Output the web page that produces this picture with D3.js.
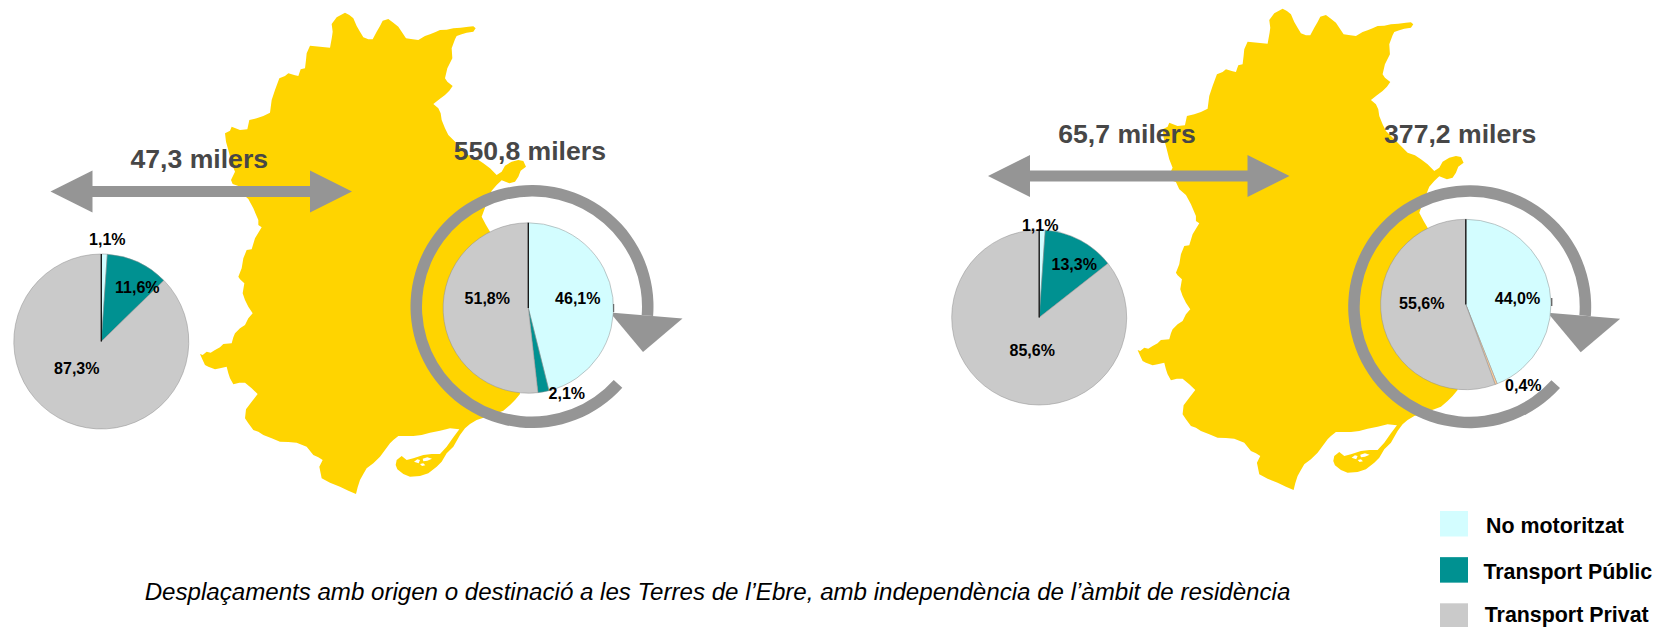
<!DOCTYPE html>
<html>
<head>
<meta charset="utf-8">
<title>Desplaçaments Terres de l'Ebre</title>
<script src="https://cdn.jsdelivr.net/npm/d3@7/dist/d3.min.js"></script>
<style>
html, body { margin: 0; padding: 0; background: #fff; }
svg { display: block; }
text { font-family: "Liberation Sans", Arial, sans-serif; }
</style>
</head>
<body>
<div id="chart"></div>
<script>
// values
var categories = ["No motoritzat", "Transport Públic", "Transport Privat"];

var externLeft = [1.1, 11.6, 87.3];
var internLeft = [46.1, 2.1, 51.8];
var externRight = [1.1, 13.3, 85.6];
var internRight = [44.0, 0.4, 55.6];

var totals = ["47,3 milers", "550,8 milers", "65,7 milers", "377,2 milers"];
var caption = "Desplaçaments amb origen o destinació a les Terres de l’Ebre, amb independència de l’àmbit de residència";

var colors = ["#d3fdff", "#009191", "#cacaca"];
var peach = "#ffcc99"; // last pie uses another colour for the small slice

// outline of the territory, traced in a 3x crop of the left map
var mapOutline = [[465,38],[478,45],[490,55],[500,78],[510,95],[520,112],[535,118],[548,118],[560,95],[570,78],[578,62],[595,57],
    [610,68],[625,80],[638,100],[648,115],[668,118],[685,120],[705,108],[720,103],[735,97],[750,90],[770,89],[790,85],[812,83],[835,80],[850,79],[857,85],
    [850,95],[830,98],[815,103],[800,108],[795,118],[785,145],[787,175],[772,205],[765,235],[772,245],[788,258],[778,272],[765,285],[748,298],[730,312],
    [745,325],[752,340],[755,360],[765,385],[775,405],[800,430],[820,450],[840,470],[862,478],[880,490],[900,505],[920,525],[935,515],
    [945,497],[965,485],[985,480],[1000,483],[1008,500],[992,512],[985,530],[975,545],[958,550],[935,541],[920,555],
    [905,572],[890,610],[875,650],[888,675],[900,695],[930,800],[960,1000],[990,1182],[975,1200],[960,1215],[940,1232],[920,1240],[890,1250],[860,1260],[840,1272],[825,1285],
    [810,1305],[790,1340],[770,1360],[755,1385],[740,1400],[715,1420],[690,1428],[660,1430],[640,1422],[622,1408],[617,1395],[620,1380],[635,1368],
    [650,1380],[670,1375],[700,1365],[725,1362],[750,1362],[770,1340],[790,1312],[808,1288],[780,1285],[750,1292],[720,1298],[695,1305],[670,1308],[625,1308],
    [610,1320],[600,1330],[585,1350],[570,1370],[550,1390],[530,1405],[520,1422],[510,1440],[503,1462],[498,1482],[475,1472],[450,1460],[420,1448],[395,1435],
    [388,1400],[398,1380],[385,1372],[370,1365],[350,1340],[320,1328],[295,1326],[270,1325],[245,1315],[220,1305],[205,1295],[190,1290],[175,1270],[165,1255],
    [168,1228],[185,1205],[203,1182],[185,1165],[165,1148],[148,1148],[130,1153],[120,1135],[115,1120],[110,1100],[90,1105],[75,1108],[55,1100],[45,1095],[38,1080],[30,1062],
    [38,1065],[50,1055],[62,1058],[75,1050],[90,1042],[100,1032],[125,1030],[130,1012],[135,1000],[150,985],[165,975],[175,955],[188,940],[175,920],
    [165,900],[158,880],[163,850],[150,838],[145,830],[155,805],[160,775],[170,750],[185,748],[195,715],[215,682],[205,675],[205,660],[190,625],[175,597],
    [155,580],[145,558],[128,552],[123,540],[135,515],[125,490],[115,450],[108,425],[105,400],[120,392],[125,380],[150,390],[172,388],[178,360],[200,355],[220,348],[240,338],
    [245,300],[255,270],[268,235],[285,228],[295,220],[315,226],[325,228],[332,208],[345,205],[348,180],[350,160],[360,137],[390,140],[420,143],[426,110],[428,95],[425,72],[440,52]];

// little lagoons in the spit of the delta
var mapHoles = [[[672,1385],[682,1378],[690,1380],[686,1390]],
    [[698,1376],[712,1372],[726,1376],[712,1382],[700,1384]],
    [[690,1392],[700,1390],[706,1396],[696,1398]]];

var width = 1653;
var height = 627;

var svg = d3.select("#chart")
    .append("svg")
    .attr("width", width)
    .attr("height", height);

var mapX = d3.scaleLinear().domain([0, 1020]).range([190, 530]);
var mapY = d3.scaleLinear().domain([0, 750]).range([0, 250]);

var mapLine = d3.line()
    .x(function(d) { return mapX(d[0]); })
    .y(function(d) { return mapY(d[1]); })
    .curve(d3.curveLinearClosed);

function drawMap(dx, dy) {
    var g = svg.append("g").attr("transform", "translate(" + dx + "," + dy + ")");
    g.append("path")
        .attr("d", mapLine(mapOutline))
        .style("fill", "#ffd400");
    g.selectAll(".hole")
        .data(mapHoles)
        .enter()
        .append("path")
        .attr("class", "hole")
        .attr("d", function(d) { return mapLine(d); })
        .style("fill", "#fff");
}

var GREY = "#959595";

function drawDoubleArrow(x0, x1, y) {
    // head 42 long and 42 wide, shaft 11 thick
    var line = d3.line();
    var pts = [[x0, y], [x0 + 42, y - 21], [x0 + 42, y - 5.5], [x1 - 42, y - 5.5], [x1 - 42, y - 21], [x1, y],
        [x1 - 42, y + 21], [x1 - 42, y + 5.5], [x0 + 42, y + 5.5], [x0 + 42, y + 21]];
    svg.append("path")
        .attr("d", line(pts) + "Z")
        .style("fill", GREY);
}

function drawRing(cx, cy) {
    var deg = Math.PI / 180;
    var arc = d3.arc()
        .innerRadius(110)
        .outerRadius(121.5)
        .startAngle(132 * deg)
        .endAngle((360 + 94.5) * deg);
    svg.append("path")
        .attr("transform", "translate(" + cx + "," + cy + ")")
        .attr("d", arc())
        .style("fill", GREY);
    svg.append("path")
        .attr("d", d3.line()([[cx + 78, cy + 6], [cx + 150.5, cy + 12], [cx + 111, cy + 45.5]]) + "Z")
        .style("fill", GREY);
}

function drawPie(values, cx, cy, r, sliceColors, labelPos) {
    var pie = d3.pie().sort(null).value(function(d) { return d; });
    var arc = d3.arc().innerRadius(0).outerRadius(r);
    var g = svg.append("g").attr("transform", "translate(" + cx + "," + cy + ")");

    g.selectAll("path")
        .data(pie(values))
        .enter()
        .append("path")
        .attr("d", arc)
        .style("fill", function(d, i) { return sliceColors[i]; })
        .style("stroke", "#8f8f8f")
        .style("stroke-width", 0.5);

    g.append("line")
        .attr("x1", 0)
        .attr("y1", 0)
        .attr("x2", 0)
        .attr("y2", -r)
        .style("stroke", "#111")
        .style("stroke-width", 1.3);

    g.selectAll("text")
        .data(values)
        .enter()
        .append("text")
        .attr("x", function(d, i) { return labelPos[i][0]; })
        .attr("y", function(d, i) { return labelPos[i][1]; })
        .attr("text-anchor", "middle")
        .style("font-size", "16px")
        .style("font-weight", "bold")
        .style("fill", "#000")
        .text(function(d) { return d.toFixed(1).replace(".", ",") + "%"; });
}

drawMap(0, 0);
drawMap(937.6, -4);

drawDoubleArrow(50.5, 352, 191.5);
drawDoubleArrow(988, 1289.5, 176);

drawRing(532, 306.5);
drawRing(1469.7, 306.7);

drawPie(externLeft, 101.3, 341.5, 87.5, colors, [[6, -97], [36, -48.5], [-24.5, 32.5]]);
drawPie(internLeft, 528.3, 308, 85.2, colors, [[49.5, -4], [38.5, 91], [-41, -4]]);
drawPie(externRight, 1039.2, 317.5, 87.5, colors, [[1, -86.5], [35, -48], [-7, 38.5]]);
drawPie(internRight, 1465.8, 304.5, 85.2, [colors[0], peach, colors[2]], [[51.7, -0.5], [57.5, 86.5], [-44, 4.5]]);

// tiny ticks right of the two big pies
svg.append("line").attr("x1", 613.7).attr("y1", 304).attr("x2", 613.7).attr("y2", 312).style("stroke", "#555").style("stroke-width", 1);
svg.append("line").attr("x1", 1551.8).attr("y1", 298).attr("x2", 1551.8).attr("y2", 306).style("stroke", "#333").style("stroke-width", 1);

var totalX = [199.3, 529.8, 1127, 1460.2];
var totalY = [167.7, 160, 142.7, 142.7];

svg.selectAll(".total")
    .data(totals)
    .enter()
    .append("text")
    .attr("class", "total")
    .attr("x", function(d, i) { return totalX[i]; })
    .attr("y", function(d, i) { return totalY[i]; })
    .attr("text-anchor", "middle")
    .style("font-size", "26.6px")
    .style("font-weight", "bold")
    .style("fill", "#474747")
    .text(function(d) { return d; });

// legend
var swatchY = d3.scalePoint().domain(categories).range([511, 603.3]);
var legendTextX = [1555, 1567.8, 1566.7];
var legendTextDy = [22, 22, 19];

svg.selectAll(".swatch")
    .data(categories)
    .enter()
    .append("rect")
    .attr("class", "swatch")
    .attr("x", 1440)
    .attr("y", function(d) { return swatchY(d); })
    .attr("width", 28)
    .attr("height", 25.5)
    .style("fill", function(d, i) { return colors[i]; });

svg.selectAll(".legend-label")
    .data(categories)
    .enter()
    .append("text")
    .attr("class", "legend-label")
    .attr("x", function(d, i) { return legendTextX[i]; })
    .attr("y", function(d, i) { return swatchY(d) + legendTextDy[i]; })
    .attr("text-anchor", "middle")
    .style("font-size", "21.4px")
    .style("font-weight", "bold")
    .style("fill", "#000")
    .text(function(d) { return d; });

svg.append("text")
    .attr("x", 717.5)
    .attr("y", 600.3)
    .attr("text-anchor", "middle")
    .style("font-size", "24.1px")
    .style("font-style", "italic")
    .style("fill", "#000")
    .text(caption);
</script>
</body>
</html>
